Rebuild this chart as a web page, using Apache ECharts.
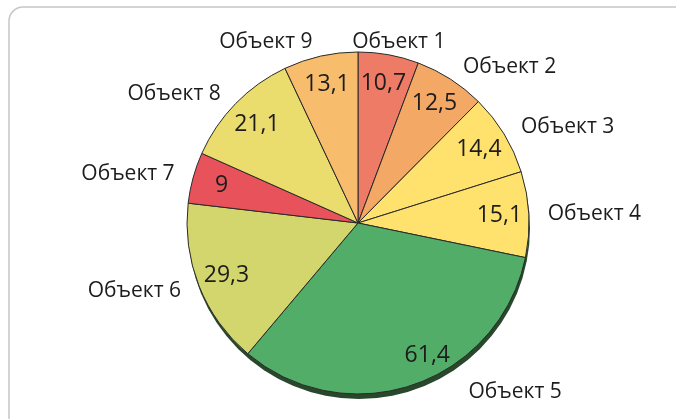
<!DOCTYPE html>
<html><head><meta charset="utf-8">
<script src="https://cdn.jsdelivr.net/npm/echarts@6/dist/echarts.min.js"></script>
<style>html,body{margin:0;padding:0;background:#fff}#c{width:676px;height:419px}</style>
</head><body><div id="c"></div>
<script>
const categories = ['Объект 1','Объект 2','Объект 3','Объект 4','Объект 5','Объект 6','Объект 7','Объект 8','Объект 9'];
const values = [10.7, 12.5, 14.4, 15.1, 61.4, 29.3, 9, 21.1, 13.1];
const colors = ['#EE7B66','#F4A866','#FFE26D','#FFE26D','#51AD67','#D2D66C','#E8535B','#EBDC6E','#F7BD6C'];

const chart = echarts.init(document.getElementById('c'), null, {renderer: 'canvas'});
const CX = 358, CY = 223, R = 171;
const FONT = 'Open Sans';
const TEXT = '#1c1c1c';
const fmt = v => String(v).replace('.', ',');
const data = categories.map((n, i) => ({name: n, value: values[i], itemStyle: {color: colors[i]}}));

// label placement tweaks mimicking the reference's manual label positions
const nameShift = {0: [-44, 1], 4: [45, -6]};
const valueShift = {4: [23, -1]};

const option = {
  animation: false,
  graphic: [{
    type: 'rect', silent: true, z: -10,
    shape: {x: 9, y: 7, width: 720, height: 440, r: 14},
    style: {fill: 'none', stroke: '#c6c6c6', lineWidth: 1.5}
  }],
  series: [
    {
      type: 'pie', silent: true, center: [CX + 1, CY + 5], radius: R,
      data: [{value: 1}], itemStyle: {color: '#28472b'},
      label: {show: false}, labelLine: {show: false}, z: 1
    },
    {
      type: 'pie', silent: true, center: [CX, CY], radius: R, startAngle: 90, clockwise: true,
      avoidLabelOverlap: false, data: data, z: 2,
      itemStyle: {borderColor: '#2a2a2a', borderWidth: 1},
      label: {position: 'outside', formatter: '{b}', fontFamily: FONT, fontSize: 21, color: TEXT},
      labelLine: {show: false, length: 14, length2: 0},
      labelLayout: p => {
        const s = nameShift[p.dataIndex];
        return s ? {dx: s[0], dy: s[1]} : {};
      }
    },
    {
      type: 'pie', silent: true, center: [CX, CY], radius: [R * 0.62, R], startAngle: 90, clockwise: true,
      avoidLabelOverlap: false, z: 3,
      data: categories.map((n, i) => ({name: n, value: values[i]})),
      itemStyle: {color: 'rgba(0,0,0,0)', borderWidth: 0},
      label: {position: 'inside', formatter: p => fmt(p.value), fontFamily: FONT, fontSize: 23, color: TEXT},
      labelLine: {show: false},
      labelLayout: p => {
        const s = valueShift[p.dataIndex];
        return s ? {dx: s[0], dy: s[1]} : {};
      }
    }
  ]
};
chart.setOption(option);
</script>
</body></html>
